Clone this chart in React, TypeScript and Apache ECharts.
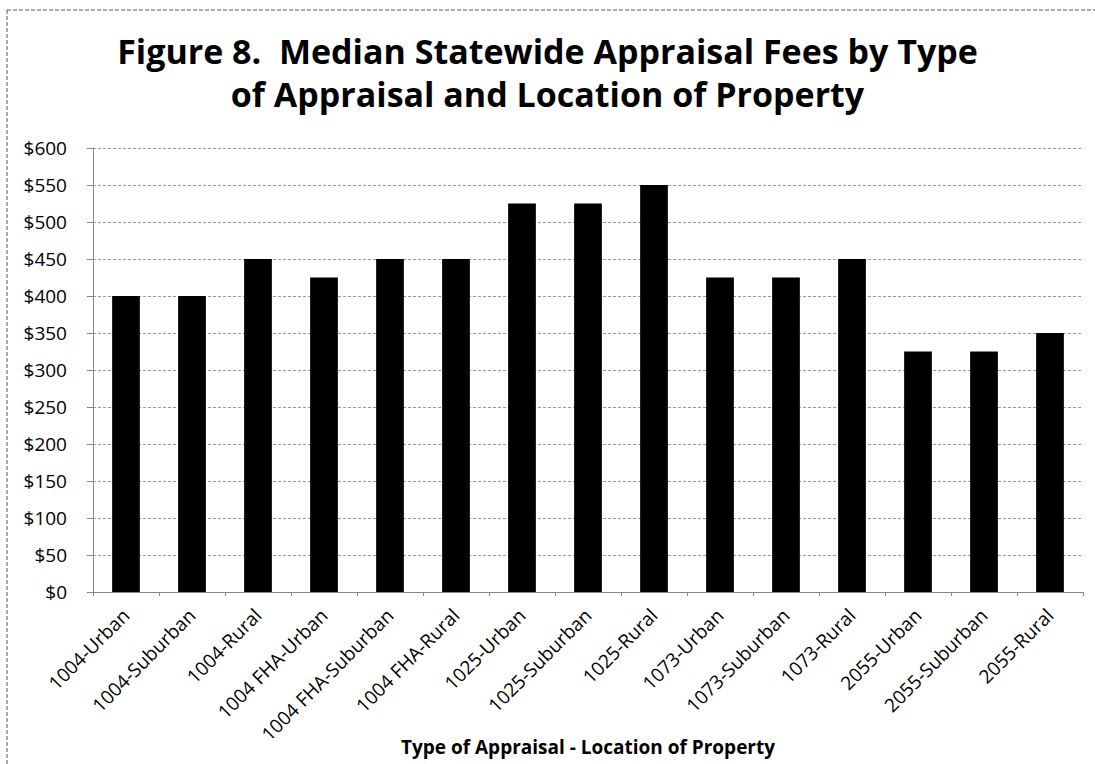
import React, { useEffect, useRef } from "react";
import * as echarts from "echarts";

const categories = [
  "1004-Urban",
  "1004-Suburban",
  "1004-Rural",
  "1004 FHA-Urban",
  "1004 FHA-Suburban",
  "1004 FHA-Rural",
  "1025-Urban",
  "1025-Suburban",
  "1025-Rural",
  "1073-Urban",
  "1073-Suburban",
  "1073-Rural",
  "2055-Urban",
  "2055-Suburban",
  "2055-Rural",
];
const medianFees = [400, 400, 450, 425, 450, 450, 525, 525, 550, 425, 425, 450, 325, 325, 350];

const titleLines = [
  "Figure 8.  Median Statewide Appraisal Fees by Type",
  "of Appraisal and Location of Property",
];
const xAxisName = "Type of Appraisal - Location of Property";

const FONT = "'Open Sans', 'Noto Sans', sans-serif";

export default function App() {
  const ref = useRef<HTMLDivElement>(null);
  useEffect(() => {
    if (!ref.current) return;
    const chart = echarts.init(ref.current, undefined, { renderer: "svg" });
    chart.setOption({
      animation: false,
      backgroundColor: "#ffffff",
      title: {
        text: titleLines.join("\n"),
        left: "center",
        top: 24,
        textStyle: {
          fontFamily: FONT,
          fontSize: 34,
          fontWeight: "bold",
          color: "#000",
          lineHeight: 43,
        },
      },
      graphic: [
        {
          type: "line",
          shape: { x1: 7, y1: 10, x2: 1095, y2: 10 },
          style: { stroke: "#555", lineWidth: 1, lineDash: [4, 2] },
        },
        {
          type: "line",
          shape: { x1: 7, y1: 10, x2: 7, y2: 764 },
          style: { stroke: "#555", lineWidth: 1, lineDash: [4, 2] },
        },
      ],
      grid: {
        left: 93,
        right: 12,
        top: 148,
        bottom: 172,
        containLabel: false,
        outerBoundsMode: "none",
      },
      xAxis: {
        type: "category",
        data: categories,
        name: xAxisName,
        nameLocation: "middle",
        nameGap: 145,
        nameMoveOverlap: false,
        nameTextStyle: { fontFamily: FONT, fontSize: 19, fontWeight: "bold", color: "#000" },
        axisLine: { show: true, lineStyle: { color: "#888", width: 1 } },
        axisTick: { show: true, length: 4, lineStyle: { color: "#888" } },
        axisLabel: {
          rotate: 45,
          interval: 0,
          fontFamily: FONT,
          fontSize: 19,
          color: "#000",
          margin: 20,
        },
      },
      yAxis: {
        type: "value",
        min: 0,
        max: 600,
        interval: 50,
        axisLine: { show: true, lineStyle: { color: "#888", width: 1 } },
        axisTick: { show: true, length: 6, lineStyle: { color: "#888" } },
        axisLabel: {
          fontFamily: FONT,
          fontSize: 19,
          color: "#000",
          margin: 26,
          formatter: (v: number) => "$" + v,
        },
        splitLine: { show: true, lineStyle: { color: "#999", width: 1, type: [3, 2] } },
      },
      series: [
        {
          type: "bar",
          data: medianFees,
          barWidth: "42%",
          itemStyle: { color: "#000" },
        },
      ],
    });
    return () => chart.dispose();
  }, []);
  return (
    <div
      ref={ref}
      style={{ position: "fixed", left: 0, top: 0, width: 1095, height: 764 }}
    />
  );
}
